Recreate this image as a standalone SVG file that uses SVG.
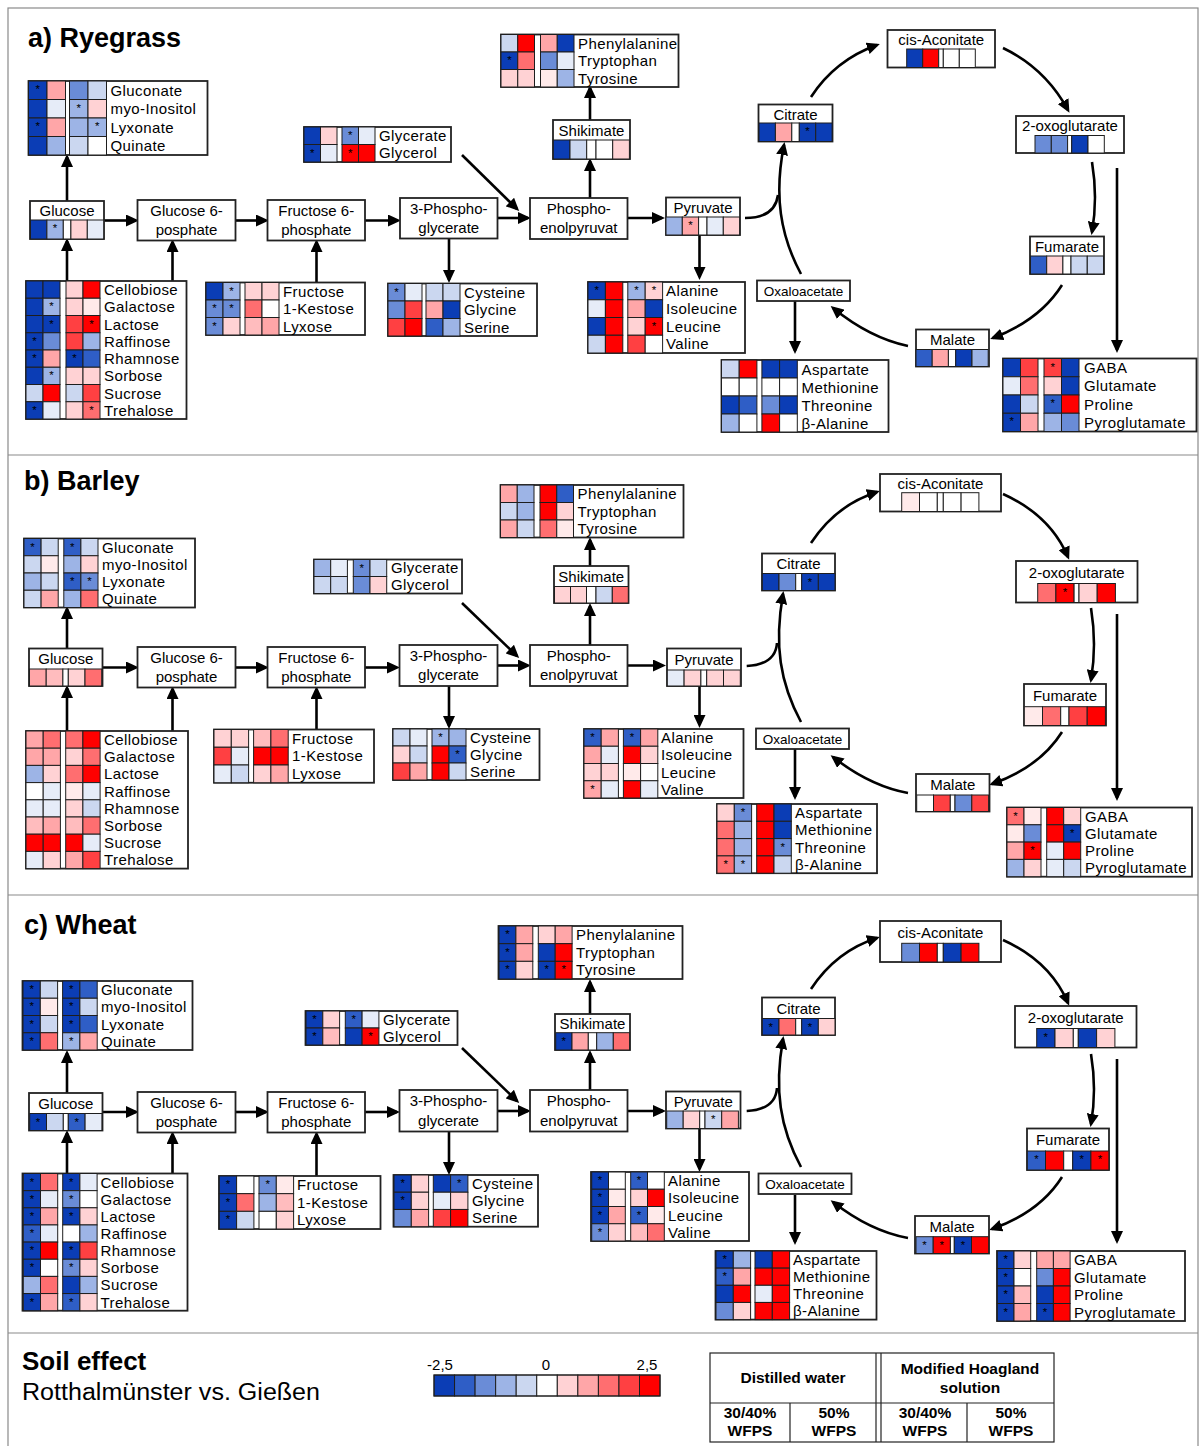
<svg xmlns="http://www.w3.org/2000/svg" width="1201" height="1446" viewBox="0 0 1201 1446">
<style>
text{font-family:"Liberation Sans",Arial,sans-serif;fill:#000}
.lb{font-size:15px;letter-spacing:0.4px}
.nl{font-size:15px;text-anchor:middle}
.ox{font-size:13.5px;text-anchor:middle}
.st{font-size:11.5px;text-anchor:middle}
.tt{font-size:27px;font-weight:bold}
.hm rect{stroke:#1e1e1e;stroke-width:1}
.nb,.hm .nb{fill:#fff;stroke:#222;stroke-width:1.8}
.ar{fill:none;stroke:#000;stroke-width:2.6;marker-end:url(#ah)}
.fr{stroke:#8a8a8a;stroke-width:1.2;fill:none}
.tb{stroke:#222;stroke-width:1.2;fill:none}
.lg{font-size:15.5px;font-weight:bold;text-anchor:middle}
.n5{fill:#0b3db5}.n4{fill:#2f5ec6}.n3{fill:#6a8cd7}.n2{fill:#9db4e6}.n1{fill:#cbd7f0}.n0{fill:#e6ecf8}
.z{fill:#fff}.p0{fill:#ffeaea}.p1{fill:#ffd2d4}.p15{fill:#ffbcbe}.p2{fill:#ffa6a8}.p3{fill:#ff6e70}.p4{fill:#ff4042}.p5{fill:#ff0000}
</style>
<defs>
<marker id="ah" markerUnits="userSpaceOnUse" markerWidth="13" markerHeight="12" refX="10" refY="6" orient="auto"><path d="M0,0 L13,6 L0,12 z" fill="#000"/></marker>
</defs>
<rect width="1201" height="1446" fill="#fff"/>
<g id="frame">
<rect class="fr" x="8" y="8" width="1190" height="1450"/>
<line class="fr" x1="8" y1="455" x2="1198" y2="455"/>
<line class="fr" x1="8" y1="895" x2="1198" y2="895"/>
<line class="fr" x1="8" y1="1333" x2="1198" y2="1333"/>
</g>
<text class="tt" x="28" y="47">a) Ryegrass</text>
<text class="tt" x="24" y="490">b) Barley</text>
<text class="tt" x="24" y="934">c) Wheat</text>

<g id="connectors">
<path class="ar" d="M67,201 V157"/>
<path class="ar" d="M67,281 V241"/>
<path class="ar" d="M172.5,281 V242"/>
<path class="ar" d="M104,220.5 H136"/>
<path class="ar" d="M235.5,220.5 H266"/>
<path class="ar" d="M365,220.5 H398"/>
<path class="ar" d="M316.5,282.5 V242"/>
<path class="ar" d="M449,238.5 V280"/>
<path class="ar" d="M497.5,218 H528"/>
<path class="ar" d="M462,155 L517,209"/>
<path class="ar" d="M627.5,218 H662"/>
<path class="ar" d="M590,198 V161"/>
<path class="ar" d="M590,120 V88"/>
<path class="ar" d="M699.5,235 V277"/>
<path fill="none" stroke="#000" stroke-width="2.6" d="M745,218 C765,218 776,210 778,195"/>
<path class="ar" d="M801,274 C780,235 774,195 784,145"/>
<path class="ar" d="M811,97 Q835,60 877,45"/>
<path class="ar" d="M1003,48 Q1045,68 1068,110"/>
<path class="ar" d="M1092,162 Q1098,198 1092,232"/>
<path class="ar" d="M1117,168 V350"/>
<path class="ar" d="M1062,285 Q1040,320 993,338"/>
<path class="ar" d="M908,346 Q870,338 833,308"/>
<path class="ar" d="M795,301 V351"/>

<path class="ar" d="M67,648.5 V609"/>
<path class="ar" d="M67,731 V688"/>
<path class="ar" d="M172.5,731 V689"/>
<path class="ar" d="M102.5,667.5 H136"/>
<path class="ar" d="M235.5,667.5 H266"/>
<path class="ar" d="M365,667.5 H397"/>
<path class="ar" d="M316.5,729.5 V689"/>
<path class="ar" d="M449,686 V726"/>
<path class="ar" d="M497.5,665.5 H528"/>
<path class="ar" d="M462,603 L517,656"/>
<path class="ar" d="M627.5,665.5 H663"/>
<path class="ar" d="M590,645 V606"/>
<path class="ar" d="M590,566 V540"/>
<path class="ar" d="M699.5,686 V725"/>
<path fill="none" stroke="#000" stroke-width="2.6" d="M746.7,666 C766,665 776,658 777,643"/>
<path class="ar" d="M801,722 C780,683 774,645 783,594"/>
<path class="ar" d="M811,543 Q836,505 877,492"/>
<path class="ar" d="M1003,494 Q1050,515 1068,557"/>
<path class="ar" d="M1091,608 Q1097,645 1091,680"/>
<path class="ar" d="M1117,614 V798"/>
<path class="ar" d="M1062,732 Q1040,767 992,784"/>
<path class="ar" d="M908,793 Q870,786 833,757"/>
<path class="ar" d="M795,749 V797"/>

<path class="ar" d="M67,1093 V1053"/>
<path class="ar" d="M67,1173.5 V1133"/>
<path class="ar" d="M172.5,1173.5 V1134"/>
<path class="ar" d="M102.5,1112 H136"/>
<path class="ar" d="M235.5,1112 H266"/>
<path class="ar" d="M365,1112 H397"/>
<path class="ar" d="M316.5,1176 V1134"/>
<path class="ar" d="M449,1131.5 V1172"/>
<path class="ar" d="M497.5,1111 H528"/>
<path class="ar" d="M462,1048 L517,1101"/>
<path class="ar" d="M627.5,1111 H663"/>
<path class="ar" d="M590,1090 V1053"/>
<path class="ar" d="M590,1014 V982"/>
<path class="ar" d="M699.5,1128.5 V1169"/>
<path fill="none" stroke="#000" stroke-width="2.6" d="M746.7,1111 C766,1110 776,1103 777,1088"/>
<path class="ar" d="M801,1167 C780,1128 774,1090 783,1039"/>
<path class="ar" d="M811,989 Q836,951 877,938"/>
<path class="ar" d="M1003,940 Q1050,961 1068,1003"/>
<path class="ar" d="M1091,1054 Q1097,1090 1091,1124"/>
<path class="ar" d="M1117,1059 V1241"/>
<path class="ar" d="M1062,1177 Q1040,1212 992,1229"/>
<path class="ar" d="M908,1238 Q870,1231 833,1202"/>
<path class="ar" d="M795,1195 V1242"/>
</g>

<!-- ================= PANEL A ================= -->
<g id="a-gluconate" class="hm" transform="translate(28.5,81)">
<rect class="nb" width="179" height="74"/>
<rect x="0" y="0" width="18.5" height="18.5" class="n5"/><rect x="18.5" y="0" width="18.5" height="18.5" class="p2"/><rect x="41" y="0" width="18.5" height="18.5" class="n3"/><rect x="59.5" y="0" width="18.5" height="18.5" class="n1"/>
<rect x="0" y="18.5" width="18.5" height="18.5" class="n5"/><rect x="18.5" y="18.5" width="18.5" height="18.5" class="n0"/><rect x="41" y="18.5" width="18.5" height="18.5" class="n2"/><rect x="59.5" y="18.5" width="18.5" height="18.5" class="p1"/>
<rect x="0" y="37" width="18.5" height="18.5" class="n5"/><rect x="18.5" y="37" width="18.5" height="18.5" class="p2"/><rect x="41" y="37" width="18.5" height="18.5" class="n2"/><rect x="59.5" y="37" width="18.5" height="18.5" class="n2"/>
<rect x="0" y="55.5" width="18.5" height="18.5" class="n5"/><rect x="18.5" y="55.5" width="18.5" height="18.5" class="n2"/><rect x="41" y="55.5" width="18.5" height="18.5" class="n1"/><rect x="59.5" y="55.5" width="18.5" height="18.5" class="z"/>
<text class="st" x="9.25" y="12">*</text><text class="st" x="50.25" y="30.5">*</text><text class="st" x="9.25" y="49">*</text><text class="st" x="68.75" y="49">*</text>
<text class="lb" x="82" y="14.5">Gluconate</text><text class="lb" x="82" y="33">myo-Inositol</text><text class="lb" x="82" y="51.5">Lyxonate</text><text class="lb" x="82" y="70">Quinate</text>
</g>
<g id="a-glycerate" class="hm" transform="translate(304,127)">
<rect class="nb" width="147" height="35"/>
<rect x="0" y="0" width="16.5" height="17.5" class="n5"/><rect x="16.5" y="0" width="16.5" height="17.5" class="p1"/><rect x="38" y="0" width="16.5" height="17.5" class="n3"/><rect x="54.5" y="0" width="16.5" height="17.5" class="n0"/>
<rect x="0" y="17.5" width="16.5" height="17.5" class="n5"/><rect x="16.5" y="17.5" width="16.5" height="17.5" class="n0"/><rect x="38" y="17.5" width="16.5" height="17.5" class="p5"/><rect x="54.5" y="17.5" width="16.5" height="17.5" class="p5"/>
<text class="st" x="46.25" y="12">*</text><text class="st" x="8.25" y="29.5">*</text><text class="st" x="46.25" y="29.5">*</text>
<text class="lb" x="75" y="13.5">Glycerate</text><text class="lb" x="75" y="31">Glycerol</text>
</g>
<g id="a-phenylalanine" class="hm" transform="translate(501,34.5)">
<rect class="nb" width="177.5" height="52.5"/>
<rect x="0" y="0" width="16.75" height="17.5" class="n1"/><rect x="16.75" y="0" width="16.75" height="17.5" class="p5"/><rect x="39.5" y="0" width="16.75" height="17.5" class="p2"/><rect x="56.25" y="0" width="16.75" height="17.5" class="n5"/>
<rect x="0" y="17.5" width="16.75" height="17.5" class="n5"/><rect x="16.75" y="17.5" width="16.75" height="17.5" class="p3"/><rect x="39.5" y="17.5" width="16.75" height="17.5" class="n3"/><rect x="56.25" y="17.5" width="16.75" height="17.5" class="n0"/>
<rect x="0" y="35" width="16.75" height="17.5" class="p1"/><rect x="16.75" y="35" width="16.75" height="17.5" class="p1"/><rect x="39.5" y="35" width="16.75" height="17.5" class="p0"/><rect x="56.25" y="35" width="16.75" height="17.5" class="n2"/>
<text class="st" x="8.4" y="29.5">*</text>
<text class="lb" x="77" y="14">Phenylalanine</text><text class="lb" x="77" y="31.5">Tryptophan</text><text class="lb" x="77" y="49">Tyrosine</text>
</g>
<g id="a-cysteine" class="hm" transform="translate(388,283.5)">
<rect class="nb" width="149" height="52.5"/>
<rect x="0" y="0" width="17" height="17.5" class="n3"/><rect x="17" y="0" width="17" height="17.5" class="n0"/><rect x="38" y="0" width="17" height="17.5" class="n1"/><rect x="55" y="0" width="17" height="17.5" class="n1"/>
<rect x="0" y="17.5" width="17" height="17.5" class="n3"/><rect x="17" y="17.5" width="17" height="17.5" class="p4"/><rect x="38" y="17.5" width="17" height="17.5" class="p2"/><rect x="55" y="17.5" width="17" height="17.5" class="n5"/>
<rect x="0" y="35" width="17" height="17.5" class="p4"/><rect x="17" y="35" width="17" height="17.5" class="p5"/><rect x="38" y="35" width="17" height="17.5" class="n4"/><rect x="55" y="35" width="17" height="17.5" class="n2"/>
<text class="st" x="8.5" y="12">*</text>
<text class="lb" x="76" y="14">Cysteine</text><text class="lb" x="76" y="31.5">Glycine</text><text class="lb" x="76" y="49">Serine</text>
</g>
<g id="a-alanine" class="hm" transform="translate(588,282)">
<rect class="nb" width="157" height="71"/>
<rect x="0" y="0" width="17.4" height="17.75" class="n5"/><rect x="17.4" y="0" width="17.4" height="17.75" class="p5"/><rect x="39.8" y="0" width="17.4" height="17.75" class="n2"/><rect x="57.2" y="0" width="17.4" height="17.75" class="p1"/>
<rect x="0" y="17.75" width="17.4" height="17.75" class="n0"/><rect x="17.4" y="17.75" width="17.4" height="17.75" class="p5"/><rect x="39.8" y="17.75" width="17.4" height="17.75" class="p2"/><rect x="57.2" y="17.75" width="17.4" height="17.75" class="n5"/>
<rect x="0" y="35.5" width="17.4" height="17.75" class="n5"/><rect x="17.4" y="35.5" width="17.4" height="17.75" class="p5"/><rect x="39.8" y="35.5" width="17.4" height="17.75" class="p1"/><rect x="57.2" y="35.5" width="17.4" height="17.75" class="p5"/>
<rect x="0" y="53.25" width="17.4" height="17.75" class="n1"/><rect x="17.4" y="53.25" width="17.4" height="17.75" class="p5"/><rect x="39.8" y="53.25" width="17.4" height="17.75" class="p4"/><rect x="57.2" y="53.25" width="17.4" height="17.75" class="z"/>
<text class="st" x="8.7" y="12">*</text><text class="st" x="48.5" y="12">*</text><text class="st" x="65.9" y="12">*</text><text class="st" x="65.9" y="47.5">*</text>
<text class="lb" x="78" y="14">Alanine</text><text class="lb" x="78" y="31.75">Isoleucine</text><text class="lb" x="78" y="49.5">Leucine</text><text class="lb" x="78" y="67.25">Valine</text>
</g>
<g id="a-fructose" class="hm" transform="translate(206,282.5)">
<rect class="nb" width="159" height="52.5"/>
<rect x="0" y="0" width="17" height="17.5" class="n5"/><rect x="17" y="0" width="17" height="17.5" class="n2"/><rect x="39" y="0" width="17" height="17.5" class="p1"/><rect x="56" y="0" width="17" height="17.5" class="p1"/>
<rect x="0" y="17.5" width="17" height="17.5" class="n3"/><rect x="17" y="17.5" width="17" height="17.5" class="n3"/><rect x="39" y="17.5" width="17" height="17.5" class="p3"/><rect x="56" y="17.5" width="17" height="17.5" class="z"/>
<rect x="0" y="35" width="17" height="17.5" class="n3"/><rect x="17" y="35" width="17" height="17.5" class="p1"/><rect x="39" y="35" width="17" height="17.5" class="p15"/><rect x="56" y="35" width="17" height="17.5" class="p2"/>
<text class="st" x="25.5" y="12">*</text><text class="st" x="8.5" y="29.5">*</text><text class="st" x="25.5" y="29.5">*</text><text class="st" x="8.5" y="47">*</text>
<text class="lb" x="77" y="14">Fructose</text><text class="lb" x="77" y="31.5">1-Kestose</text><text class="lb" x="77" y="49">Lyxose</text>
</g>
<g id="a-cellobiose" class="hm" transform="translate(26,281)">
<rect class="nb" width="160.5" height="138"/>
<rect x="0" y="0" width="17" height="17.25" class="n5"/><rect x="17" y="0" width="17" height="17.25" class="n5"/><rect x="40" y="0" width="17" height="17.25" class="p1"/><rect x="57" y="0" width="17" height="17.25" class="p5"/>
<rect x="0" y="17.25" width="17" height="17.25" class="n5"/><rect x="17" y="17.25" width="17" height="17.25" class="n2"/><rect x="40" y="17.25" width="17" height="17.25" class="p1"/><rect x="57" y="17.25" width="17" height="17.25" class="p0"/>
<rect x="0" y="34.5" width="17" height="17.25" class="n5"/><rect x="17" y="34.5" width="17" height="17.25" class="n5"/><rect x="40" y="34.5" width="17" height="17.25" class="p4"/><rect x="57" y="34.5" width="17" height="17.25" class="p5"/>
<rect x="0" y="51.75" width="17" height="17.25" class="n5"/><rect x="17" y="51.75" width="17" height="17.25" class="n3"/><rect x="40" y="51.75" width="17" height="17.25" class="p4"/><rect x="57" y="51.75" width="17" height="17.25" class="n2"/>
<rect x="0" y="69" width="17" height="17.25" class="n5"/><rect x="17" y="69" width="17" height="17.25" class="p2"/><rect x="40" y="69" width="17" height="17.25" class="n5"/><rect x="57" y="69" width="17" height="17.25" class="n4"/>
<rect x="0" y="86.25" width="17" height="17.25" class="n5"/><rect x="17" y="86.25" width="17" height="17.25" class="n2"/><rect x="40" y="86.25" width="17" height="17.25" class="p1"/><rect x="57" y="86.25" width="17" height="17.25" class="p1"/>
<rect x="0" y="103.5" width="17" height="17.25" class="n1"/><rect x="17" y="103.5" width="17" height="17.25" class="p5"/><rect x="40" y="103.5" width="17" height="17.25" class="n1"/><rect x="57" y="103.5" width="17" height="17.25" class="p4"/>
<rect x="0" y="120.75" width="17" height="17.25" class="n5"/><rect x="17" y="120.75" width="17" height="17.25" class="n0"/><rect x="40" y="120.75" width="17" height="17.25" class="p1"/><rect x="57" y="120.75" width="17" height="17.25" class="p3"/>
<text class="st" x="25.5" y="29.25">*</text><text class="st" x="25.5" y="46.5">*</text><text class="st" x="65.5" y="46.5">*</text><text class="st" x="8.5" y="63.75">*</text><text class="st" x="8.5" y="81">*</text><text class="st" x="48.5" y="81">*</text><text class="st" x="25.5" y="98.25">*</text><text class="st" x="8.5" y="132.75">*</text><text class="st" x="65.5" y="132.75">*</text>
<text class="lb" x="78" y="14">Cellobiose</text><text class="lb" x="78" y="31.25">Galactose</text><text class="lb" x="78" y="48.5">Lactose</text><text class="lb" x="78" y="65.75">Raffinose</text><text class="lb" x="78" y="83">Rhamnose</text><text class="lb" x="78" y="100.25">Sorbose</text><text class="lb" x="78" y="117.5">Sucrose</text><text class="lb" x="78" y="134.75">Trehalose</text>
</g>
<g id="a-aspartate" class="hm" transform="translate(721.5,360)">
<rect class="nb" width="167" height="72"/>
<rect x="0" y="0" width="17.7" height="18" class="n1"/><rect x="17.7" y="0" width="17.7" height="18" class="p5"/><rect x="40.4" y="0" width="17.7" height="18" class="n5"/><rect x="58.1" y="0" width="17.7" height="18" class="n5"/>
<rect x="0" y="18" width="17.7" height="18" class="z"/><rect x="17.7" y="18" width="17.7" height="18" class="z"/><rect x="40.4" y="18" width="17.7" height="18" class="z"/><rect x="58.1" y="18" width="17.7" height="18" class="z"/>
<rect x="0" y="36" width="17.7" height="18" class="n5"/><rect x="17.7" y="36" width="17.7" height="18" class="n4"/><rect x="40.4" y="36" width="17.7" height="18" class="n3"/><rect x="58.1" y="36" width="17.7" height="18" class="n5"/>
<rect x="0" y="54" width="17.7" height="18" class="n2"/><rect x="17.7" y="54" width="17.7" height="18" class="z"/><rect x="40.4" y="54" width="17.7" height="18" class="p5"/><rect x="58.1" y="54" width="17.7" height="18" class="z"/>
<text class="lb" x="80" y="14.5">Aspartate</text><text class="lb" x="80" y="32.5">Methionine</text><text class="lb" x="80" y="50.5">Threonine</text><text class="lb" x="80" y="68.5">β-Alanine</text>
</g>
<g id="a-gaba" class="hm" transform="translate(1003,358.5)">
<rect class="nb" width="193.5" height="73"/>
<rect x="0" y="0" width="17.5" height="18.25" class="n5"/><rect x="17.5" y="0" width="17.5" height="18.25" class="p4"/><rect x="41" y="0" width="17.5" height="18.25" class="p4"/><rect x="58.5" y="0" width="17.5" height="18.25" class="n5"/>
<rect x="0" y="18.25" width="17.5" height="18.25" class="n0"/><rect x="17.5" y="18.25" width="17.5" height="18.25" class="p3"/><rect x="41" y="18.25" width="17.5" height="18.25" class="p1"/><rect x="58.5" y="18.25" width="17.5" height="18.25" class="n5"/>
<rect x="0" y="36.5" width="17.5" height="18.25" class="n5"/><rect x="17.5" y="36.5" width="17.5" height="18.25" class="n1"/><rect x="41" y="36.5" width="17.5" height="18.25" class="n4"/><rect x="58.5" y="36.5" width="17.5" height="18.25" class="p5"/>
<rect x="0" y="54.75" width="17.5" height="18.25" class="n5"/><rect x="17.5" y="54.75" width="17.5" height="18.25" class="p2"/><rect x="41" y="54.75" width="17.5" height="18.25" class="n2"/><rect x="58.5" y="54.75" width="17.5" height="18.25" class="n3"/>
<text class="st" x="49.75" y="12">*</text><text class="st" x="49.75" y="48.5">*</text><text class="st" x="8.75" y="66.75">*</text>
<text class="lb" x="81" y="14.5">GABA</text><text class="lb" x="81" y="32.75">Glutamate</text><text class="lb" x="81" y="51">Proline</text><text class="lb" x="81" y="69.25">Pyroglutamate</text>
</g>
<g id="a-glucose" class="hm" transform="translate(30,201)">
<rect class="nb" width="74" height="38"/><text class="nl" x="37" y="15">Glucose</text>
<rect x="0.5" y="19" width="16.4" height="19" class="n5"/><rect x="16.9" y="19" width="16.4" height="19" class="n2"/><rect x="33.3" y="19" width="7.6" height="19" class="z"/><rect x="40.9" y="19" width="16.4" height="19" class="p1"/><rect x="57.3" y="19" width="16.4" height="19" class="n0"/>
<text class="st" x="25.1" y="31">*</text>
</g>
<g id="a-g6p" transform="translate(137.5,200)"><rect class="nb" width="98" height="40.5"/><text class="nl" x="49" y="15.5">Glucose 6-</text><text class="nl" x="49" y="35">posphate</text></g>
<g id="a-f6p" transform="translate(267.5,200)"><rect class="nb" width="97.5" height="40.5"/><text class="nl" x="48.75" y="15.5">Fructose 6-</text><text class="nl" x="48.75" y="35">phosphate</text></g>
<g id="a-3pg" transform="translate(400,198)"><rect class="nb" width="97.5" height="40.5"/><text class="nl" x="48.75" y="15.5">3-Phospho-</text><text class="nl" x="48.75" y="35">glycerate</text></g>
<g id="a-pep" transform="translate(530,198)"><rect class="nb" width="97.5" height="41"/><text class="nl" x="48.75" y="15.5">Phospho-</text><text class="nl" x="48.75" y="35">enolpyruvat</text></g>
<g id="a-pyruvate" class="hm" transform="translate(666,197.5)">
<rect class="nb" width="74" height="37.5"/><text class="nl" x="37" y="15">Pyruvate</text>
<rect x="0" y="19.5" width="16.3" height="18" class="n2"/><rect x="16.3" y="19.5" width="16.3" height="18" class="p2"/><rect x="32.6" y="19.5" width="8.4" height="18" class="z"/><rect x="41" y="19.5" width="16.3" height="18" class="n0"/><rect x="57.3" y="19.5" width="16.3" height="18" class="p1"/>
<text class="st" x="24.45" y="31.5">*</text>
</g>
<g id="a-shikimate" class="hm" transform="translate(553,120)">
<rect class="nb" width="77" height="39"/><text class="nl" x="38.5" y="15.5">Shikimate</text>
<rect x="0.3" y="20" width="16.7" height="19" class="n5"/><rect x="17" y="20" width="16.7" height="19" class="n1"/><rect x="33.7" y="20" width="9.3" height="19" class="z"/><rect x="43" y="20" width="16.7" height="19" class="z"/><rect x="59.7" y="20" width="16.7" height="19" class="p1"/>
</g>
<g id="a-citrate" class="hm" transform="translate(758.5,104.5)">
<rect class="nb" width="74" height="37"/><text class="nl" x="37" y="15">Citrate</text>
<rect x="0.5" y="18.5" width="16.4" height="18.5" class="n5"/><rect x="16.9" y="18.5" width="16.4" height="18.5" class="p2"/><rect x="33.3" y="18.5" width="7.5" height="18.5" class="z"/><rect x="40.8" y="18.5" width="16.4" height="18.5" class="n5"/><rect x="57.2" y="18.5" width="16.4" height="18.5" class="n5"/>
<text class="st" x="49" y="30.5">*</text>
</g>
<g id="a-cisaconitate" class="hm" transform="translate(887.5,30)">
<rect class="nb" width="107.5" height="37.5"/><text class="nl" x="53.75" y="15">cis-Aconitate</text>
<rect x="19.2" y="19" width="16" height="18.5" class="n5"/><rect x="35.2" y="19" width="16" height="18.5" class="p5"/><rect x="51.2" y="19" width="4.6" height="18.5" class="z"/><rect x="55.8" y="19" width="16" height="18.5" class="z"/><rect x="71.8" y="19" width="16" height="18.5" class="z"/>
</g>
<g id="a-2oxoglutarate" class="hm" transform="translate(1016,116)">
<rect class="nb" width="108" height="37"/><text class="nl" x="54" y="15">2-oxoglutarate</text>
<rect x="19" y="19.5" width="16.3" height="17.5" class="n3"/><rect x="35.3" y="19.5" width="16.3" height="17.5" class="n3"/><rect x="51.6" y="19.5" width="4.1" height="17.5" class="z"/><rect x="55.7" y="19.5" width="16.3" height="17.5" class="n5"/><rect x="72" y="19.5" width="16.3" height="17.5" class="z"/>
</g>
<g id="a-fumarate" class="hm" transform="translate(1030,236.5)">
<rect class="nb" width="74" height="37.5"/><text class="nl" x="37" y="15">Fumarate</text>
<rect x="0.5" y="19.5" width="16.2" height="18" class="n4"/><rect x="16.7" y="19.5" width="16.2" height="18" class="p1"/><rect x="32.9" y="19.5" width="8.1" height="18" class="z"/><rect x="41" y="19.5" width="16.2" height="18" class="n1"/><rect x="57.3" y="19.5" width="16.2" height="18" class="n1"/>
</g>
<g id="a-malate" class="hm" transform="translate(916,329.5)">
<rect class="nb" width="73" height="37"/><text class="nl" x="36.5" y="15.5">Malate</text>
<rect x="0" y="20" width="16.2" height="17" class="n4"/><rect x="16.2" y="20" width="16.2" height="17" class="p2"/><rect x="32.4" y="20" width="7.3" height="17" class="z"/><rect x="39.7" y="20" width="16.2" height="17" class="n5"/><rect x="56" y="20" width="16.2" height="17" class="n2"/>
</g>
<g id="a-oxaloacetate" transform="translate(757,280.5)"><rect class="nb" width="93" height="20.5"/><text class="ox" x="46.5" y="15">Oxaloacetate</text></g>

<!-- ================= PANEL B ================= -->
<g id="b-gluconate" class="hm" transform="translate(24,538.5)">
<rect class="nb" width="171" height="69"/>
<rect x="0" y="0" width="17.1" height="17.25" class="n4"/><rect x="17.1" y="0" width="17.1" height="17.25" class="n1"/><rect x="39.8" y="0" width="17.1" height="17.25" class="n4"/><rect x="56.9" y="0" width="17.1" height="17.25" class="n1"/>
<rect x="0" y="17.25" width="17.1" height="17.25" class="n1"/><rect x="17.1" y="17.25" width="17.1" height="17.25" class="p0"/><rect x="39.8" y="17.25" width="17.1" height="17.25" class="n2"/><rect x="56.9" y="17.25" width="17.1" height="17.25" class="p1"/>
<rect x="0" y="34.5" width="17.1" height="17.25" class="n2"/><rect x="17.1" y="34.5" width="17.1" height="17.25" class="n1"/><rect x="39.8" y="34.5" width="17.1" height="17.25" class="n4"/><rect x="56.9" y="34.5" width="17.1" height="17.25" class="n3"/>
<rect x="0" y="51.75" width="17.1" height="17.25" class="n1"/><rect x="17.1" y="51.75" width="17.1" height="17.25" class="p2"/><rect x="39.8" y="51.75" width="17.1" height="17.25" class="n2"/><rect x="56.9" y="51.75" width="17.1" height="17.25" class="p3"/>
<text class="st" x="8.55" y="12">*</text><text class="st" x="48.35" y="12">*</text><text class="st" x="48.35" y="46.5">*</text><text class="st" x="65.45" y="46.5">*</text>
<text class="lb" x="78" y="14">Gluconate</text><text class="lb" x="78" y="31.25">myo-Inositol</text><text class="lb" x="78" y="48.5">Lyxonate</text><text class="lb" x="78" y="65.75">Quinate</text>
</g>
<g id="b-glycerate" class="hm" transform="translate(314,559.5)">
<rect class="nb" width="148" height="34"/>
<rect x="0" y="0" width="16.7" height="17" class="n2"/><rect x="16.7" y="0" width="16.7" height="17" class="n0"/><rect x="39.3" y="0" width="16.7" height="17" class="n3"/><rect x="56" y="0" width="16.7" height="17" class="n1"/>
<rect x="0" y="17" width="16.7" height="17" class="n1"/><rect x="16.7" y="17" width="16.7" height="17" class="n1"/><rect x="39.3" y="17" width="16.7" height="17" class="n3"/><rect x="56" y="17" width="16.7" height="17" class="p1"/>
<text class="st" x="47.65" y="12">*</text>
<text class="lb" x="77" y="13.5">Glycerate</text><text class="lb" x="77" y="30.5">Glycerol</text>
</g>
<g id="b-phenylalanine" class="hm" transform="translate(500.5,485)">
<rect class="nb" width="183" height="52.5"/>
<rect x="0" y="0" width="16.75" height="17.5" class="p2"/><rect x="16.75" y="0" width="16.75" height="17.5" class="n2"/><rect x="39.5" y="0" width="16.75" height="17.5" class="p5"/><rect x="56.25" y="0" width="16.75" height="17.5" class="n4"/>
<rect x="0" y="17.5" width="16.75" height="17.5" class="n1"/><rect x="16.75" y="17.5" width="16.75" height="17.5" class="n2"/><rect x="39.5" y="17.5" width="16.75" height="17.5" class="p5"/><rect x="56.25" y="17.5" width="16.75" height="17.5" class="p1"/>
<rect x="0" y="35" width="16.75" height="17.5" class="p2"/><rect x="16.75" y="35" width="16.75" height="17.5" class="n1"/><rect x="39.5" y="35" width="16.75" height="17.5" class="p3"/><rect x="56.25" y="35" width="16.75" height="17.5" class="p0"/>
<text class="lb" x="77" y="14">Phenylalanine</text><text class="lb" x="77" y="31.5">Tryptophan</text><text class="lb" x="77" y="49">Tyrosine</text>
</g>
<g id="b-cysteine" class="hm" transform="translate(393,729)">
<rect class="nb" width="146.5" height="51"/>
<rect x="0" y="0" width="17" height="17" class="n1"/><rect x="17" y="0" width="17" height="17" class="n0"/><rect x="39" y="0" width="17" height="17" class="n2"/><rect x="56" y="0" width="17" height="17" class="n2"/>
<rect x="0" y="17" width="17" height="17" class="p1"/><rect x="17" y="17" width="17" height="17" class="n1"/><rect x="39" y="17" width="17" height="17" class="p5"/><rect x="56" y="17" width="17" height="17" class="n4"/>
<rect x="0" y="34" width="17" height="17" class="p4"/><rect x="17" y="34" width="17" height="17" class="p2"/><rect x="39" y="34" width="17" height="17" class="p5"/><rect x="56" y="34" width="17" height="17" class="n1"/>
<text class="st" x="47.5" y="12">*</text><text class="st" x="64.5" y="29">*</text>
<text class="lb" x="77" y="13.5">Cysteine</text><text class="lb" x="77" y="30.5">Glycine</text><text class="lb" x="77" y="47.5">Serine</text>
</g>
<g id="b-alanine" class="hm" transform="translate(584,729)">
<rect class="nb" width="159.5" height="69"/>
<rect x="0" y="0" width="17.2" height="17.25" class="n4"/><rect x="17.2" y="0" width="17.2" height="17.25" class="p2"/><rect x="39.4" y="0" width="17.2" height="17.25" class="n4"/><rect x="56.6" y="0" width="17.2" height="17.25" class="p2"/>
<rect x="0" y="17.25" width="17.2" height="17.25" class="p2"/><rect x="17.2" y="17.25" width="17.2" height="17.25" class="n0"/><rect x="39.4" y="17.25" width="17.2" height="17.25" class="p5"/><rect x="56.6" y="17.25" width="17.2" height="17.25" class="p1"/>
<rect x="0" y="34.5" width="17.2" height="17.25" class="p1"/><rect x="17.2" y="34.5" width="17.2" height="17.25" class="p1"/><rect x="39.4" y="34.5" width="17.2" height="17.25" class="p0"/><rect x="56.6" y="34.5" width="17.2" height="17.25" class="z"/>
<rect x="0" y="51.75" width="17.2" height="17.25" class="p2"/><rect x="17.2" y="51.75" width="17.2" height="17.25" class="n0"/><rect x="39.4" y="51.75" width="17.2" height="17.25" class="p5"/><rect x="56.6" y="51.75" width="17.2" height="17.25" class="n0"/>
<text class="st" x="8.6" y="12">*</text><text class="st" x="48" y="12">*</text><text class="st" x="8.6" y="63.75">*</text>
<text class="lb" x="77" y="14">Alanine</text><text class="lb" x="77" y="31.25">Isoleucine</text><text class="lb" x="77" y="48.5">Leucine</text><text class="lb" x="77" y="65.75">Valine</text>
</g>
<g id="b-fructose" class="hm" transform="translate(214,729.5)">
<rect class="nb" width="160" height="53.25"/>
<rect x="0" y="0" width="17.3" height="17.75" class="p1"/><rect x="17.3" y="0" width="17.3" height="17.75" class="p1"/><rect x="39.6" y="0" width="17.3" height="17.75" class="p15"/><rect x="56.9" y="0" width="17.3" height="17.75" class="p3"/>
<rect x="0" y="17.75" width="17.3" height="17.75" class="p4"/><rect x="17.3" y="17.75" width="17.3" height="17.75" class="n0"/><rect x="39.6" y="17.75" width="17.3" height="17.75" class="p5"/><rect x="56.9" y="17.75" width="17.3" height="17.75" class="p5"/>
<rect x="0" y="35.5" width="17.3" height="17.75" class="n0"/><rect x="17.3" y="35.5" width="17.3" height="17.75" class="n1"/><rect x="39.6" y="35.5" width="17.3" height="17.75" class="p1"/><rect x="56.9" y="35.5" width="17.3" height="17.75" class="p2"/>
<text class="lb" x="78" y="14">Fructose</text><text class="lb" x="78" y="31.75">1-Kestose</text><text class="lb" x="78" y="49.5">Lyxose</text>
</g>
<g id="b-cellobiose" class="hm" transform="translate(26,731)">
<rect class="nb" width="162" height="137.6"/>
<rect x="0" y="0" width="17.2" height="17.2" class="p2"/><rect x="17.2" y="0" width="17.2" height="17.2" class="p3"/><rect x="39.7" y="0" width="17.2" height="17.2" class="p3"/><rect x="56.9" y="0" width="17.2" height="17.2" class="p5"/>
<rect x="0" y="17.2" width="17.2" height="17.2" class="p2"/><rect x="17.2" y="17.2" width="17.2" height="17.2" class="p2"/><rect x="39.7" y="17.2" width="17.2" height="17.2" class="p1"/><rect x="56.9" y="17.2" width="17.2" height="17.2" class="p3"/>
<rect x="0" y="34.4" width="17.2" height="17.2" class="n2"/><rect x="17.2" y="34.4" width="17.2" height="17.2" class="p1"/><rect x="39.7" y="34.4" width="17.2" height="17.2" class="p3"/><rect x="56.9" y="34.4" width="17.2" height="17.2" class="p5"/>
<rect x="0" y="51.6" width="17.2" height="17.2" class="z"/><rect x="17.2" y="51.6" width="17.2" height="17.2" class="n0"/><rect x="39.7" y="51.6" width="17.2" height="17.2" class="p0"/><rect x="56.9" y="51.6" width="17.2" height="17.2" class="n0"/>
<rect x="0" y="68.8" width="17.2" height="17.2" class="n0"/><rect x="17.2" y="68.8" width="17.2" height="17.2" class="n0"/><rect x="39.7" y="68.8" width="17.2" height="17.2" class="p1"/><rect x="56.9" y="68.8" width="17.2" height="17.2" class="n1"/>
<rect x="0" y="86" width="17.2" height="17.2" class="p15"/><rect x="17.2" y="86" width="17.2" height="17.2" class="p2"/><rect x="39.7" y="86" width="17.2" height="17.2" class="p15"/><rect x="56.9" y="86" width="17.2" height="17.2" class="p3"/>
<rect x="0" y="103.2" width="17.2" height="17.2" class="p5"/><rect x="17.2" y="103.2" width="17.2" height="17.2" class="p5"/><rect x="39.7" y="103.2" width="17.2" height="17.2" class="p5"/><rect x="56.9" y="103.2" width="17.2" height="17.2" class="n0"/>
<rect x="0" y="120.4" width="17.2" height="17.2" class="n0"/><rect x="17.2" y="120.4" width="17.2" height="17.2" class="p1"/><rect x="39.7" y="120.4" width="17.2" height="17.2" class="p2"/><rect x="56.9" y="120.4" width="17.2" height="17.2" class="p4"/>
<text class="lb" x="78" y="14">Cellobiose</text><text class="lb" x="78" y="31.2">Galactose</text><text class="lb" x="78" y="48.4">Lactose</text><text class="lb" x="78" y="65.6">Raffinose</text><text class="lb" x="78" y="82.8">Rhamnose</text><text class="lb" x="78" y="100">Sorbose</text><text class="lb" x="78" y="117.2">Sucrose</text><text class="lb" x="78" y="134.4">Trehalose</text>
</g>
<g id="b-aspartate" class="hm" transform="translate(717,804)">
<rect class="nb" width="160" height="69.2"/>
<rect x="0" y="0" width="17.3" height="17.3" class="p1"/><rect x="17.3" y="0" width="17.3" height="17.3" class="n3"/><rect x="39.7" y="0" width="17.3" height="17.3" class="p5"/><rect x="57" y="0" width="17.3" height="17.3" class="n5"/>
<rect x="0" y="17.3" width="17.3" height="17.3" class="p3"/><rect x="17.3" y="17.3" width="17.3" height="17.3" class="n2"/><rect x="39.7" y="17.3" width="17.3" height="17.3" class="p5"/><rect x="57" y="17.3" width="17.3" height="17.3" class="n5"/>
<rect x="0" y="34.6" width="17.3" height="17.3" class="p3"/><rect x="17.3" y="34.6" width="17.3" height="17.3" class="n2"/><rect x="39.7" y="34.6" width="17.3" height="17.3" class="p5"/><rect x="57" y="34.6" width="17.3" height="17.3" class="n3"/>
<rect x="0" y="51.9" width="17.3" height="17.3" class="p3"/><rect x="17.3" y="51.9" width="17.3" height="17.3" class="n2"/><rect x="39.7" y="51.9" width="17.3" height="17.3" class="p5"/><rect x="57" y="51.9" width="17.3" height="17.3" class="n1"/>
<text class="st" x="25.95" y="12">*</text><text class="st" x="65.65" y="46.6">*</text><text class="st" x="8.65" y="63.9">*</text><text class="st" x="25.95" y="63.9">*</text>
<text class="lb" x="78" y="14">Aspartate</text><text class="lb" x="78" y="31.3">Methionine</text><text class="lb" x="78" y="48.6">Threonine</text><text class="lb" x="78" y="65.9">β-Alanine</text>
</g>
<g id="b-gaba" class="hm" transform="translate(1007,807.5)">
<rect class="nb" width="185" height="69.2"/>
<rect x="0" y="0" width="17" height="17.3" class="p3"/><rect x="17" y="0" width="17" height="17.3" class="p0"/><rect x="39.7" y="0" width="17" height="17.3" class="p5"/><rect x="56.7" y="0" width="17" height="17.3" class="p1"/>
<rect x="0" y="17.3" width="17" height="17.3" class="p0"/><rect x="17" y="17.3" width="17" height="17.3" class="n3"/><rect x="39.7" y="17.3" width="17" height="17.3" class="p5"/><rect x="56.7" y="17.3" width="17" height="17.3" class="n5"/>
<rect x="0" y="34.6" width="17" height="17.3" class="p2"/><rect x="17" y="34.6" width="17" height="17.3" class="p5"/><rect x="39.7" y="34.6" width="17" height="17.3" class="n0"/><rect x="56.7" y="34.6" width="17" height="17.3" class="p5"/>
<rect x="0" y="51.9" width="17" height="17.3" class="n2"/><rect x="17" y="51.9" width="17" height="17.3" class="p1"/><rect x="39.7" y="51.9" width="17" height="17.3" class="n0"/><rect x="56.7" y="51.9" width="17" height="17.3" class="n1"/>
<text class="st" x="8.5" y="12">*</text><text class="st" x="65.2" y="29.3">*</text><text class="st" x="25.5" y="46.6">*</text>
<text class="lb" x="78" y="14">GABA</text><text class="lb" x="78" y="31.3">Glutamate</text><text class="lb" x="78" y="48.6">Proline</text><text class="lb" x="78" y="65.9">Pyroglutamate</text>
</g>
<g id="b-glucose" class="hm" transform="translate(29,648.5)">
<rect class="nb" width="73.5" height="37.5"/><text class="nl" x="36.75" y="15.5">Glucose</text>
<rect x="0.5" y="20.5" width="16.7" height="17" class="p2"/><rect x="17.2" y="20.5" width="16.7" height="17" class="p15"/><rect x="33.9" y="20.5" width="5.4" height="17" class="z"/><rect x="39.3" y="20.5" width="16.7" height="17" class="p1"/><rect x="56" y="20.5" width="16.7" height="17" class="p3"/>
</g>
<g id="b-g6p" transform="translate(137.5,647)"><rect class="nb" width="98" height="40.5"/><text class="nl" x="49" y="15.5">Glucose 6-</text><text class="nl" x="49" y="35">posphate</text></g>
<g id="b-f6p" transform="translate(267.5,647)"><rect class="nb" width="97.5" height="40.5"/><text class="nl" x="48.75" y="15.5">Fructose 6-</text><text class="nl" x="48.75" y="35">phosphate</text></g>
<g id="b-3pg" transform="translate(399.5,645)"><rect class="nb" width="98" height="41"/><text class="nl" x="49" y="15.5">3-Phospho-</text><text class="nl" x="49" y="35">glycerate</text></g>
<g id="b-pep" transform="translate(530,645)"><rect class="nb" width="97.5" height="41"/><text class="nl" x="48.75" y="15.5">Phospho-</text><text class="nl" x="48.75" y="35">enolpyruvat</text></g>
<g id="b-pyruvate" class="hm" transform="translate(667,648.5)">
<rect class="nb" width="74" height="37.5"/><text class="nl" x="37" y="16">Pyruvate</text>
<rect x="0.3" y="21.5" width="16.8" height="16" class="n0"/><rect x="17.1" y="21.5" width="16.8" height="16" class="p1"/><rect x="33.9" y="21.5" width="5.8" height="16" class="z"/><rect x="39.7" y="21.5" width="16.8" height="16" class="p1"/><rect x="56.5" y="21.5" width="16.8" height="16" class="p1"/>
</g>
<g id="b-shikimate" class="hm" transform="translate(554,566)">
<rect class="nb" width="74.5" height="37"/><text class="nl" x="37.25" y="15.5">Shikimate</text>
<rect x="0.5" y="20.5" width="16" height="16.5" class="p1"/><rect x="16.5" y="20.5" width="16" height="16.5" class="p1"/><rect x="32.5" y="20.5" width="9.5" height="16.5" class="z"/><rect x="42" y="20.5" width="16.3" height="16.5" class="n1"/><rect x="58.3" y="20.5" width="16" height="16.5" class="p3"/>
</g>
<g id="b-citrate" class="hm" transform="translate(762,553.5)">
<rect class="nb" width="73" height="37"/><text class="nl" x="36.5" y="15.5">Citrate</text>
<rect x="0.3" y="20" width="16.7" height="17" class="n5"/><rect x="17" y="20" width="16.7" height="17" class="n3"/><rect x="33.7" y="20" width="6" height="17" class="z"/><rect x="39.7" y="20" width="16.7" height="17" class="n5"/><rect x="56.3" y="20" width="16.7" height="17" class="n5"/>
<text class="st" x="48.05" y="32">*</text>
</g>
<g id="b-cisaconitate" class="hm" transform="translate(880,474)">
<rect class="nb" width="121" height="37.5"/><text class="nl" x="60.5" y="15">cis-Aconitate</text>
<rect x="21.7" y="18.7" width="17.8" height="18.8" class="p0"/><rect x="39.5" y="18.7" width="17.8" height="18.8" class="z"/><rect x="57.3" y="18.7" width="6" height="18.8" class="z"/><rect x="63.3" y="18.7" width="17.8" height="18.8" class="z"/><rect x="81.1" y="18.7" width="17.8" height="18.8" class="z"/>
</g>
<g id="b-2oxoglutarate" class="hm" transform="translate(1016,561)">
<rect class="nb" width="121.5" height="41.5"/><text class="nl" x="60.75" y="16.5">2-oxoglutarate</text>
<rect x="21.7" y="22.5" width="18.2" height="19" class="p3"/><rect x="39.9" y="22.5" width="18.2" height="19" class="p5"/><rect x="58.1" y="22.5" width="4.9" height="19" class="z"/><rect x="63" y="22.5" width="18.2" height="19" class="p1"/><rect x="81.2" y="22.5" width="18.2" height="19" class="p5"/>
<text class="st" x="49" y="34.5">*</text>
</g>
<g id="b-fumarate" class="hm" transform="translate(1024,684)">
<rect class="nb" width="82" height="41.5"/><text class="nl" x="41" y="16.5">Fumarate</text>
<rect x="0.3" y="22.7" width="18.2" height="18.8" class="p0"/><rect x="18.5" y="22.7" width="18.2" height="18.8" class="p3"/><rect x="36.7" y="22.7" width="8.3" height="18.8" class="z"/><rect x="45" y="22.7" width="18.2" height="18.8" class="p4"/><rect x="63.2" y="22.7" width="18.2" height="18.8" class="p5"/>
</g>
<g id="b-malate" class="hm" transform="translate(916,774)">
<rect class="nb" width="73.5" height="37.5"/><text class="nl" x="36.75" y="16">Malate</text>
<rect x="0.7" y="21" width="16.8" height="16.5" class="z"/><rect x="17.5" y="21" width="16.8" height="16.5" class="p4"/><rect x="34.3" y="21" width="4.7" height="16.5" class="z"/><rect x="39" y="21" width="16.8" height="16.5" class="n3"/><rect x="55.8" y="21" width="16.8" height="16.5" class="p4"/>
</g>
<g id="b-oxaloacetate" transform="translate(756,728.5)"><rect class="nb" width="93" height="20.5"/><text class="ox" x="46.5" y="15">Oxaloacetate</text></g>

<!-- ================= PANEL C ================= -->
<g id="c-gluconate" class="hm" transform="translate(22.5,981)">
<rect class="nb" width="170" height="69"/>
<rect x="0.5" y="0" width="17.3" height="17.25" class="n5"/><rect x="17.8" y="0" width="17.3" height="17.25" class="n1"/><rect x="40.1" y="0" width="17.3" height="17.25" class="n5"/><rect x="57.4" y="0" width="17.3" height="17.25" class="n4"/>
<rect x="0.5" y="17.25" width="17.3" height="17.25" class="n5"/><rect x="17.8" y="17.25" width="17.3" height="17.25" class="p0"/><rect x="40.1" y="17.25" width="17.3" height="17.25" class="n5"/><rect x="57.4" y="17.25" width="17.3" height="17.25" class="n1"/>
<rect x="0.5" y="34.5" width="17.3" height="17.25" class="n5"/><rect x="17.8" y="34.5" width="17.3" height="17.25" class="n1"/><rect x="40.1" y="34.5" width="17.3" height="17.25" class="n5"/><rect x="57.4" y="34.5" width="17.3" height="17.25" class="n4"/>
<rect x="0.5" y="51.75" width="17.3" height="17.25" class="n5"/><rect x="17.8" y="51.75" width="17.3" height="17.25" class="p3"/><rect x="40.1" y="51.75" width="17.3" height="17.25" class="n2"/><rect x="57.4" y="51.75" width="17.3" height="17.25" class="p2"/>
<text class="st" x="9.15" y="12">*</text><text class="st" x="48.75" y="12">*</text><text class="st" x="9.15" y="29.25">*</text><text class="st" x="48.75" y="29.25">*</text><text class="st" x="9.15" y="46.5">*</text><text class="st" x="48.75" y="46.5">*</text><text class="st" x="9.15" y="63.75">*</text><text class="st" x="48.75" y="63.75">*</text>
<text class="lb" x="78.5" y="14">Gluconate</text><text class="lb" x="78.5" y="31.25">myo-Inositol</text><text class="lb" x="78.5" y="48.5">Lyxonate</text><text class="lb" x="78.5" y="65.75">Quinate</text>
</g>
<g id="c-glycerate" class="hm" transform="translate(305.5,1011)">
<rect class="nb" width="152" height="34"/>
<rect x="0.5" y="0" width="16.8" height="17" class="n5"/><rect x="17.3" y="0" width="16.8" height="17" class="p1"/><rect x="39.8" y="0" width="16.8" height="17" class="n4"/><rect x="56.6" y="0" width="16.8" height="17" class="n0"/>
<rect x="0.5" y="17" width="16.8" height="17" class="n5"/><rect x="17.3" y="17" width="16.8" height="17" class="p15"/><rect x="39.8" y="17" width="16.8" height="17" class="n5"/><rect x="56.6" y="17" width="16.8" height="17" class="p5"/>
<text class="st" x="8.9" y="12">*</text><text class="st" x="48.2" y="12">*</text><text class="st" x="8.9" y="29">*</text><text class="st" x="65" y="29">*</text>
<text class="lb" x="77.5" y="13.5">Glycerate</text><text class="lb" x="77.5" y="30.5">Glycerol</text>
</g>
<g id="c-phenylalanine" class="hm" transform="translate(498.5,926)">
<rect class="nb" width="184" height="53"/>
<rect x="0.5" y="0" width="16.9" height="17.67" class="n5"/><rect x="17.4" y="0" width="16.9" height="17.67" class="p2"/><rect x="39.8" y="0" width="16.9" height="17.67" class="p1"/><rect x="56.7" y="0" width="16.9" height="17.67" class="p2"/>
<rect x="0.5" y="17.67" width="16.9" height="17.67" class="n5"/><rect x="17.4" y="17.67" width="16.9" height="17.67" class="p2"/><rect x="39.8" y="17.67" width="16.9" height="17.67" class="n5"/><rect x="56.7" y="17.67" width="16.9" height="17.67" class="p5"/>
<rect x="0.5" y="35.33" width="16.9" height="17.67" class="n5"/><rect x="17.4" y="35.33" width="16.9" height="17.67" class="p1"/><rect x="39.8" y="35.33" width="16.9" height="17.67" class="n5"/><rect x="56.7" y="35.33" width="16.9" height="17.67" class="p5"/>
<text class="st" x="8.95" y="12">*</text><text class="st" x="8.95" y="29.67">*</text><text class="st" x="8.95" y="47.33">*</text><text class="st" x="48.25" y="47.33">*</text><text class="st" x="65.15" y="47.33">*</text>
<text class="lb" x="77.5" y="14">Phenylalanine</text><text class="lb" x="77.5" y="31.67">Tryptophan</text><text class="lb" x="77.5" y="49.33">Tyrosine</text>
</g>
<g id="c-cysteine" class="hm" transform="translate(393.5,1175)">
<rect class="nb" width="144.5" height="51.7"/>
<rect x="0.5" y="0" width="17.3" height="17.23" class="n5"/><rect x="17.8" y="0" width="17.3" height="17.23" class="p1"/><rect x="39.8" y="0" width="17.3" height="17.23" class="n5"/><rect x="57.1" y="0" width="17.3" height="17.23" class="n4"/>
<rect x="0.5" y="17.23" width="17.3" height="17.23" class="n5"/><rect x="17.8" y="17.23" width="17.3" height="17.23" class="p1"/><rect x="39.8" y="17.23" width="17.3" height="17.23" class="n0"/><rect x="57.1" y="17.23" width="17.3" height="17.23" class="p1"/>
<rect x="0.5" y="34.47" width="17.3" height="17.23" class="n3"/><rect x="17.8" y="34.47" width="17.3" height="17.23" class="p2"/><rect x="39.8" y="34.47" width="17.3" height="17.23" class="p4"/><rect x="57.1" y="34.47" width="17.3" height="17.23" class="p5"/>
<text class="st" x="9.15" y="12">*</text><text class="st" x="65.75" y="12">*</text><text class="st" x="9.15" y="29.23">*</text>
<text class="lb" x="78.5" y="14">Cysteine</text><text class="lb" x="78.5" y="31.23">Glycine</text><text class="lb" x="78.5" y="48.47">Serine</text>
</g>
<g id="c-alanine" class="hm" transform="translate(591,1172)">
<rect class="nb" width="158" height="69"/>
<rect x="0.7" y="0" width="16.8" height="17.25" class="n5"/><rect x="17.5" y="0" width="16.8" height="17.25" class="z"/><rect x="39.7" y="0" width="16.8" height="17.25" class="n4"/><rect x="56.5" y="0" width="16.8" height="17.25" class="z"/>
<rect x="0.7" y="17.25" width="16.8" height="17.25" class="n5"/><rect x="17.5" y="17.25" width="16.8" height="17.25" class="p0"/><rect x="39.7" y="17.25" width="16.8" height="17.25" class="p1"/><rect x="56.5" y="17.25" width="16.8" height="17.25" class="p5"/>
<rect x="0.7" y="34.5" width="16.8" height="17.25" class="n5"/><rect x="17.5" y="34.5" width="16.8" height="17.25" class="p2"/><rect x="39.7" y="34.5" width="16.8" height="17.25" class="n4"/><rect x="56.5" y="34.5" width="16.8" height="17.25" class="p0"/>
<rect x="0.7" y="51.75" width="16.8" height="17.25" class="n3"/><rect x="17.5" y="51.75" width="16.8" height="17.25" class="p1"/><rect x="39.7" y="51.75" width="16.8" height="17.25" class="p15"/><rect x="56.5" y="51.75" width="16.8" height="17.25" class="p3"/>
<text class="st" x="9.1" y="12">*</text><text class="st" x="48.1" y="12">*</text><text class="st" x="9.1" y="29.25">*</text><text class="st" x="9.1" y="46.5">*</text><text class="st" x="48.1" y="46.5">*</text><text class="st" x="9.1" y="63.75">*</text>
<text class="lb" x="77" y="14">Alanine</text><text class="lb" x="77" y="31.25">Isoleucine</text><text class="lb" x="77" y="48.5">Leucine</text><text class="lb" x="77" y="65.75">Valine</text>
</g>
<g id="c-fructose" class="hm" transform="translate(219,1176)">
<rect class="nb" width="161.5" height="53"/>
<rect x="0.3" y="0" width="17.3" height="17.67" class="n5"/><rect x="17.6" y="0" width="17.3" height="17.67" class="z"/><rect x="40" y="0" width="17.3" height="17.67" class="n3"/><rect x="57.3" y="0" width="17.3" height="17.67" class="p0"/>
<rect x="0.3" y="17.67" width="17.3" height="17.67" class="n5"/><rect x="17.6" y="17.67" width="17.3" height="17.67" class="p3"/><rect x="40" y="17.67" width="17.3" height="17.67" class="n2"/><rect x="57.3" y="17.67" width="17.3" height="17.67" class="p15"/>
<rect x="0.3" y="35.33" width="17.3" height="17.67" class="n5"/><rect x="17.6" y="35.33" width="17.3" height="17.67" class="n1"/><rect x="40" y="35.33" width="17.3" height="17.67" class="z"/><rect x="57.3" y="35.33" width="17.3" height="17.67" class="p1"/>
<text class="st" x="8.95" y="12">*</text><text class="st" x="48.65" y="12">*</text><text class="st" x="8.95" y="29.67">*</text><text class="st" x="8.95" y="47.33">*</text>
<text class="lb" x="78" y="14">Fructose</text><text class="lb" x="78" y="31.67">1-Kestose</text><text class="lb" x="78" y="49.33">Lyxose</text>
</g>
<g id="c-cellobiose" class="hm" transform="translate(22.5,1173.5)">
<rect class="nb" width="165" height="137.2"/>
<rect x="0.8" y="0" width="17.2" height="17.15" class="n5"/><rect x="18" y="0" width="17.2" height="17.15" class="p3"/><rect x="40.2" y="0" width="17.2" height="17.15" class="n5"/><rect x="57.4" y="0" width="17.2" height="17.15" class="n0"/>
<rect x="0.8" y="17.15" width="17.2" height="17.15" class="n5"/><rect x="18" y="17.15" width="17.2" height="17.15" class="n0"/><rect x="40.2" y="17.15" width="17.2" height="17.15" class="n3"/><rect x="57.4" y="17.15" width="17.2" height="17.15" class="z"/>
<rect x="0.8" y="34.3" width="17.2" height="17.15" class="n5"/><rect x="18" y="34.3" width="17.2" height="17.15" class="p2"/><rect x="40.2" y="34.3" width="17.2" height="17.15" class="n5"/><rect x="57.4" y="34.3" width="17.2" height="17.15" class="p1"/>
<rect x="0.8" y="51.45" width="17.2" height="17.15" class="n4"/><rect x="18" y="51.45" width="17.2" height="17.15" class="n0"/><rect x="40.2" y="51.45" width="17.2" height="17.15" class="z"/><rect x="57.4" y="51.45" width="17.2" height="17.15" class="n2"/>
<rect x="0.8" y="68.6" width="17.2" height="17.15" class="n5"/><rect x="18" y="68.6" width="17.2" height="17.15" class="p5"/><rect x="40.2" y="68.6" width="17.2" height="17.15" class="n5"/><rect x="57.4" y="68.6" width="17.2" height="17.15" class="p4"/>
<rect x="0.8" y="85.75" width="17.2" height="17.15" class="n5"/><rect x="18" y="85.75" width="17.2" height="17.15" class="z"/><rect x="40.2" y="85.75" width="17.2" height="17.15" class="n3"/><rect x="57.4" y="85.75" width="17.2" height="17.15" class="p1"/>
<rect x="0.8" y="102.9" width="17.2" height="17.15" class="n2"/><rect x="18" y="102.9" width="17.2" height="17.15" class="p3"/><rect x="40.2" y="102.9" width="17.2" height="17.15" class="n5"/><rect x="57.4" y="102.9" width="17.2" height="17.15" class="n2"/>
<rect x="0.8" y="120.05" width="17.2" height="17.15" class="n5"/><rect x="18" y="120.05" width="17.2" height="17.15" class="p2"/><rect x="40.2" y="120.05" width="17.2" height="17.15" class="n4"/><rect x="57.4" y="120.05" width="17.2" height="17.15" class="p1"/>
<text class="st" x="9.4" y="12">*</text><text class="st" x="48.8" y="12">*</text><text class="st" x="9.4" y="29.15">*</text><text class="st" x="48.8" y="29.15">*</text><text class="st" x="9.4" y="46.3">*</text><text class="st" x="48.8" y="46.3">*</text><text class="st" x="9.4" y="63.45">*</text><text class="st" x="9.4" y="80.6">*</text><text class="st" x="48.8" y="80.6">*</text><text class="st" x="9.4" y="97.75">*</text><text class="st" x="48.8" y="97.75">*</text><text class="st" x="9.4" y="132.05">*</text><text class="st" x="48.8" y="132.05">*</text>
<text class="lb" x="78" y="14">Cellobiose</text><text class="lb" x="78" y="31.15">Galactose</text><text class="lb" x="78" y="48.3">Lactose</text><text class="lb" x="78" y="65.45">Raffinose</text><text class="lb" x="78" y="82.6">Rhamnose</text><text class="lb" x="78" y="99.75">Sorbose</text><text class="lb" x="78" y="116.9">Sucrose</text><text class="lb" x="78" y="134.05">Trehalose</text>
</g>
<g id="c-aspartate" class="hm" transform="translate(715.5,1251)">
<rect class="nb" width="161" height="68.6"/>
<rect x="0.5" y="0" width="17.3" height="17.15" class="n5"/><rect x="17.8" y="0" width="17.3" height="17.15" class="n2"/><rect x="39.5" y="0" width="17.3" height="17.15" class="n5"/><rect x="56.8" y="0" width="17.3" height="17.15" class="p5"/>
<rect x="0.5" y="17.15" width="17.3" height="17.15" class="n4"/><rect x="17.8" y="17.15" width="17.3" height="17.15" class="p2"/><rect x="39.5" y="17.15" width="17.3" height="17.15" class="p5"/><rect x="56.8" y="17.15" width="17.3" height="17.15" class="p5"/>
<rect x="0.5" y="34.3" width="17.3" height="17.15" class="n5"/><rect x="17.8" y="34.3" width="17.3" height="17.15" class="p5"/><rect x="39.5" y="34.3" width="17.3" height="17.15" class="n0"/><rect x="56.8" y="34.3" width="17.3" height="17.15" class="p5"/>
<rect x="0.5" y="51.45" width="17.3" height="17.15" class="n3"/><rect x="17.8" y="51.45" width="17.3" height="17.15" class="p1"/><rect x="39.5" y="51.45" width="17.3" height="17.15" class="p5"/><rect x="56.8" y="51.45" width="17.3" height="17.15" class="p5"/>
<text class="st" x="9.15" y="12">*</text><text class="st" x="9.15" y="29.15">*</text>
<text class="lb" x="77.5" y="14">Aspartate</text><text class="lb" x="77.5" y="31.15">Methionine</text><text class="lb" x="77.5" y="48.3">Threonine</text><text class="lb" x="77.5" y="65.45">β-Alanine</text>
</g>
<g id="c-gaba" class="hm" transform="translate(997,1251)">
<rect class="nb" width="188" height="70"/>
<rect x="0.3" y="0" width="16.7" height="17.5" class="n5"/><rect x="17" y="0" width="16.7" height="17.5" class="p1"/><rect x="39.7" y="0" width="16.7" height="17.5" class="p2"/><rect x="56.4" y="0" width="16.7" height="17.5" class="p2"/>
<rect x="0.3" y="17.5" width="16.7" height="17.5" class="n5"/><rect x="17" y="17.5" width="16.7" height="17.5" class="z"/><rect x="39.7" y="17.5" width="16.7" height="17.5" class="n3"/><rect x="56.4" y="17.5" width="16.7" height="17.5" class="p5"/>
<rect x="0.3" y="35" width="16.7" height="17.5" class="n5"/><rect x="17" y="35" width="16.7" height="17.5" class="p15"/><rect x="39.7" y="35" width="16.7" height="17.5" class="n5"/><rect x="56.4" y="35" width="16.7" height="17.5" class="p5"/>
<rect x="0.3" y="52.5" width="16.7" height="17.5" class="n5"/><rect x="17" y="52.5" width="16.7" height="17.5" class="p2"/><rect x="39.7" y="52.5" width="16.7" height="17.5" class="n5"/><rect x="56.4" y="52.5" width="16.7" height="17.5" class="p5"/>
<text class="st" x="8.65" y="12">*</text><text class="st" x="8.65" y="29.5">*</text><text class="st" x="8.65" y="47">*</text><text class="st" x="8.65" y="64.5">*</text><text class="st" x="48.05" y="64.5">*</text>
<text class="lb" x="77" y="14">GABA</text><text class="lb" x="77" y="31.5">Glutamate</text><text class="lb" x="77" y="49">Proline</text><text class="lb" x="77" y="66.5">Pyroglutamate</text>
</g>
<g id="c-glucose" class="hm" transform="translate(29,1093)">
<rect class="nb" width="73.5" height="37.5"/><text class="nl" x="36.75" y="15.5">Glucose</text>
<rect x="0.7" y="20.5" width="16.8" height="17" class="n5"/><rect x="17.5" y="20.5" width="16.8" height="17" class="n1"/><rect x="34.3" y="20.5" width="5" height="17" class="z"/><rect x="39.3" y="20.5" width="16.8" height="17" class="n4"/><rect x="56.1" y="20.5" width="16.8" height="17" class="n0"/>
<text class="st" x="9.1" y="32.5">*</text><text class="st" x="47.7" y="32.5">*</text>
</g>
<g id="c-g6p" transform="translate(137.5,1092)"><rect class="nb" width="98" height="40.5"/><text class="nl" x="49" y="15.5">Glucose 6-</text><text class="nl" x="49" y="35">posphate</text></g>
<g id="c-f6p" transform="translate(267.5,1092)"><rect class="nb" width="97.5" height="40.5"/><text class="nl" x="48.75" y="15.5">Fructose 6-</text><text class="nl" x="48.75" y="35">phosphate</text></g>
<g id="c-3pg" transform="translate(399.5,1090)"><rect class="nb" width="98" height="41.5"/><text class="nl" x="49" y="15.5">3-Phospho-</text><text class="nl" x="49" y="35.5">glycerate</text></g>
<g id="c-pep" transform="translate(530,1090)"><rect class="nb" width="97.5" height="41.5"/><text class="nl" x="48.75" y="15.5">Phospho-</text><text class="nl" x="48.75" y="35.5">enolpyruvat</text></g>
<g id="c-pyruvate" class="hm" transform="translate(666,1091.5)">
<rect class="nb" width="74.5" height="37"/><text class="nl" x="37.25" y="15.5">Pyruvate</text>
<rect x="0.7" y="19.5" width="16.5" height="17.5" class="n2"/><rect x="17.2" y="19.5" width="16.5" height="17.5" class="p1"/><rect x="33.7" y="19.5" width="5.3" height="17.5" class="z"/><rect x="39" y="19.5" width="16.7" height="17.5" class="n1"/><rect x="55.7" y="19.5" width="16.7" height="17.5" class="p2"/>
<text class="st" x="47.35" y="31.5">*</text>
</g>
<g id="c-shikimate" class="hm" transform="translate(555,1014)">
<rect class="nb" width="75" height="36"/><text class="nl" x="37.5" y="15">Shikimate</text>
<rect x="0.7" y="18.7" width="16.3" height="17.3" class="n5"/><rect x="17" y="18.7" width="16.3" height="17.3" class="p2"/><rect x="33.3" y="18.7" width="8.4" height="17.3" class="z"/><rect x="41.7" y="18.7" width="16.6" height="17.3" class="n2"/><rect x="58.3" y="18.7" width="16.3" height="17.3" class="p3"/>
<text class="st" x="8.85" y="30.7">*</text>
</g>
<g id="c-citrate" class="hm" transform="translate(762,997.5)">
<rect class="nb" width="73" height="37.5"/><text class="nl" x="36.5" y="16">Citrate</text>
<rect x="0.3" y="21" width="16.7" height="16.5" class="n5"/><rect x="17" y="21" width="16.7" height="16.5" class="p3"/><rect x="33.7" y="21" width="6" height="16.5" class="z"/><rect x="39.7" y="21" width="16.7" height="16.5" class="n5"/><rect x="56.3" y="21" width="16.7" height="16.5" class="p1"/>
<text class="st" x="8.65" y="33">*</text><text class="st" x="48.05" y="33">*</text>
</g>
<g id="c-cisaconitate" class="hm" transform="translate(880,921)">
<rect class="nb" width="121" height="41"/><text class="nl" x="60.5" y="16.5">cis-Aconitate</text>
<rect x="21.7" y="22.3" width="17.8" height="18.7" class="n3"/><rect x="39.5" y="22.3" width="17.8" height="18.7" class="p5"/><rect x="57.3" y="22.3" width="6" height="18.7" class="z"/><rect x="63.3" y="22.3" width="17.8" height="18.7" class="n5"/><rect x="81.1" y="22.3" width="17.8" height="18.7" class="p5"/>
</g>
<g id="c-2oxoglutarate" class="hm" transform="translate(1015,1006)">
<rect class="nb" width="121.5" height="41.5"/><text class="nl" x="60.75" y="16.5">2-oxoglutarate</text>
<rect x="21.7" y="22.5" width="18.3" height="19" class="n5"/><rect x="40" y="22.5" width="18.3" height="19" class="p1"/><rect x="58.3" y="22.5" width="5" height="19" class="z"/><rect x="63.3" y="22.5" width="18.3" height="19" class="n5"/><rect x="81.6" y="22.5" width="18.3" height="19" class="p1"/>
<text class="st" x="30.85" y="34.5">*</text>
</g>
<g id="c-fumarate" class="hm" transform="translate(1027,1128.5)">
<rect class="nb" width="82" height="41.5"/><text class="nl" x="41" y="16.5">Fumarate</text>
<rect x="0.3" y="22.5" width="18.2" height="19" class="n4"/><rect x="18.5" y="22.5" width="18.2" height="19" class="p5"/><rect x="36.7" y="22.5" width="9" height="19" class="z"/><rect x="45.7" y="22.5" width="18.2" height="19" class="n5"/><rect x="63.9" y="22.5" width="18" height="19" class="p5"/>
<text class="st" x="9.4" y="34.5">*</text><text class="st" x="54.8" y="34.5">*</text><text class="st" x="73" y="34.5">*</text>
</g>
<g id="c-malate" class="hm" transform="translate(915,1216)">
<rect class="nb" width="74" height="37.5"/><text class="nl" x="37" y="16">Malate</text>
<rect x="1" y="20.7" width="17.2" height="16.8" class="n3"/><rect x="18.2" y="20.7" width="17.2" height="16.8" class="p5"/><rect x="35.4" y="20.7" width="3.9" height="16.8" class="z"/><rect x="39.3" y="20.7" width="17.2" height="16.8" class="n5"/><rect x="56.5" y="20.7" width="17.2" height="16.8" class="p5"/>
<text class="st" x="9.6" y="32.7">*</text><text class="st" x="26.8" y="32.7">*</text><text class="st" x="47.9" y="32.7">*</text>
</g>
<g id="c-oxaloacetate" transform="translate(758.5,1173.5)"><rect class="nb" width="93" height="20.5"/><text class="ox" x="46.5" y="15">Oxaloacetate</text></g>

<!-- ================= LEGEND ================= -->
<g id="legend-title">
<text x="22" y="1370" font-size="26" font-weight="bold">Soil effect</text>
<text x="22" y="1400" font-size="23" textLength="298" lengthAdjust="spacingAndGlyphs">Rotthalmünster vs. Gießen</text>
</g>
<g id="legend-scale" class="hm">
<rect x="434" y="1375" width="20.55" height="21" class="n5"/><rect x="454.55" y="1375" width="20.55" height="21" class="n4"/><rect x="475.1" y="1375" width="20.55" height="21" class="n3"/><rect x="495.65" y="1375" width="20.55" height="21" class="n2"/><rect x="516.2" y="1375" width="20.55" height="21" class="n1"/><rect x="536.75" y="1375" width="20.55" height="21" class="z"/><rect x="557.3" y="1375" width="20.55" height="21" class="p1"/><rect x="577.85" y="1375" width="20.55" height="21" class="p2"/><rect x="598.4" y="1375" width="20.55" height="21" class="p3"/><rect x="618.95" y="1375" width="20.55" height="21" class="p4"/><rect x="639.5" y="1375" width="20.55" height="21" class="p5"/>
<rect x="434" y="1375" width="226" height="21" fill="none" stroke="#111" stroke-width="1.5"/>
<text x="440" y="1370" font-size="15" text-anchor="middle">-2,5</text>
<text x="546" y="1370" font-size="15" text-anchor="middle">0</text>
<text x="647" y="1370" font-size="15" text-anchor="middle">2,5</text>
</g>
<g id="legend-table">
<rect class="tb" x="710" y="1353" width="344" height="89"/>
<line class="tb" x1="710" y1="1403" x2="1054" y2="1403"/>
<line class="tb" x1="876" y1="1353" x2="876" y2="1442"/>
<line class="tb" x1="881" y1="1353" x2="881" y2="1442"/>
<line class="tb" x1="790" y1="1403" x2="790" y2="1442"/>
<line class="tb" x1="967" y1="1403" x2="967" y2="1442"/>
<text class="lg" x="793" y="1383">Distilled water</text>
<text class="lg" x="970" y="1374">Modified Hoagland</text>
<text class="lg" x="970" y="1393">solution</text>
<text class="lg" x="750" y="1418">30/40%</text><text class="lg" x="750" y="1436">WFPS</text>
<text class="lg" x="834" y="1418">50%</text><text class="lg" x="834" y="1436">WFPS</text>
<text class="lg" x="925" y="1418">30/40%</text><text class="lg" x="925" y="1436">WFPS</text>
<text class="lg" x="1011" y="1418">50%</text><text class="lg" x="1011" y="1436">WFPS</text>
</g>
</svg>
